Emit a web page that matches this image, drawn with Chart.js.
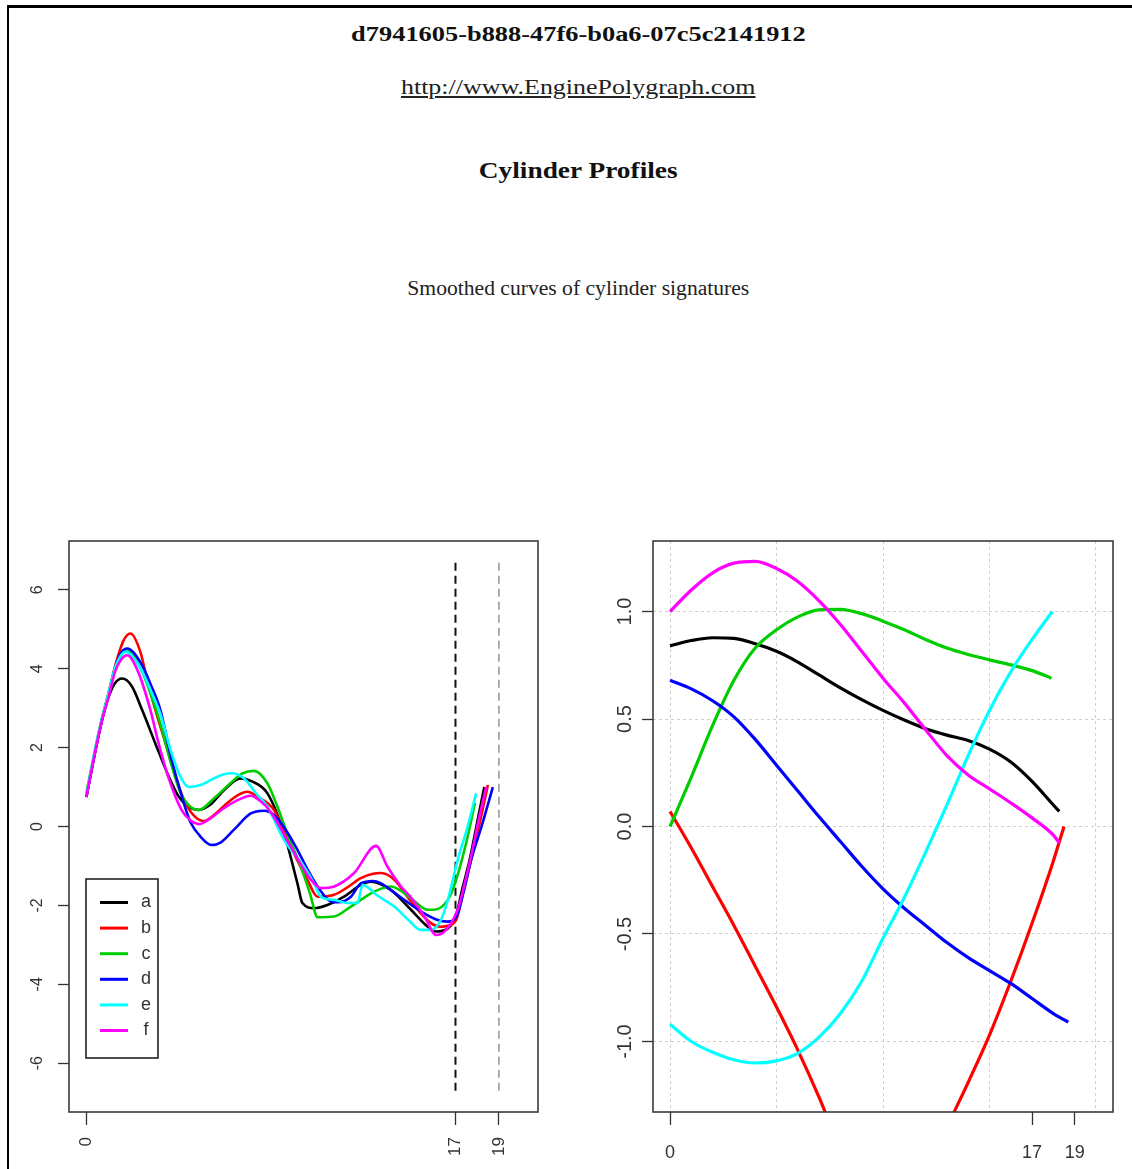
<!DOCTYPE html>
<html>
<head>
<meta charset="utf-8">
<script src="https://cdn.jsdelivr.net/npm/chart.js"></script>
<style>
  html, body { margin: 0; padding: 0; background: #fff; }
  body { width: 1132px; height: 1169px; position: relative; overflow: hidden; }
  .frame { position: absolute; left: 7px; top: 5px; width: 1200px; height: 1300px;
           border-top: 3px solid #000; border-left: 2px solid #000; }
  .t { position: absolute; left: 0; width: 1156px; text-align: center; line-height: 1;
       font-family: 'Liberation Serif', 'Times New Roman', serif; color: #111; white-space: nowrap; }
  .t span { display: inline-block; }
  #uuid { top: 23px; font-size: 22px; font-weight: bold; }
  #uuid span { transform: scaleX(1.2); }
  #url { top: 76px; font-size: 22px; color: #222; }
  #url span { transform: scaleX(1.18); text-decoration: underline; }
  #ttl { top: 158px; font-size: 24px; font-weight: bold; }
  #ttl span { transform: scaleX(1.14); }
  #sub { top: 278px; font-size: 20px; color: #222; }
  #sub span { transform: scaleX(1.08); }
  canvas { position: absolute; }
</style>
</head>
<body>
<div class="frame"></div>
<div class="t" id="uuid"><span>d7941605-b888-47f6-b0a6-07c5c2141912</span></div>
<div class="t" id="url"><span>http://www.EnginePolygraph.com</span></div>
<div class="t" id="ttl"><span>Cylinder Profiles</span></div>
<div class="t" id="sub"><span>Smoothed curves of cylinder signatures</span></div>
<canvas id="left" width="560" height="639" style="left:0;top:530px"></canvas>
<canvas id="right" width="552" height="639" style="left:580px;top:530px"></canvas>
<script>
// series a..f, R default palette
const seriesNames = ['a', 'b', 'c', 'd', 'e', 'f'];
const seriesColors = ['#000000', '#FF0000', '#00CD00', '#0000FF', '#00FFFF', '#FF00FF'];

// left panel: smoothed signatures
const aX = [0, 0.42, 0.72, 1.03, 1.3, 1.65, 2.1, 2.57, 3.18, 3.8, 4.26, 4.7, 5.18, 5.7, 6.3, 7.1, 7.6, 8.34, 9.1, 9.72, 9.95, 10.49, 11.1, 11.87, 12.64, 13.1, 14.0, 14.95, 15.72, 16.1, 16.95, 17.35, 17.65, 18.05, 18.33];
const aY = [0.75, 1.94, 2.7, 3.29, 3.62, 3.75, 3.55, 2.95, 2.1, 1.26, 0.75, 0.5, 0.42, 0.55, 0.9, 1.22, 1.15, 0.84, -0.17, -1.44, -1.94, -2.07, -1.99, -1.78, -1.48, -1.4, -1.6, -2.11, -2.54, -2.66, -2.37, -1.5, -0.85, 0.25, 1.0];

const bX = [0, 0.42, 0.72, 1.03, 1.34, 1.7, 2.03, 2.5, 2.8, 3.18, 3.65, 4.1, 4.57, 5.0, 5.41, 5.9, 6.5, 7.0, 7.41, 7.9, 8.64, 9.41, 10.18, 10.65, 11.41, 12.0, 12.64, 13.2, 13.57, 14.18, 14.95, 15.87, 16.3, 16.6, 17.03, 17.41, 17.72, 18.18, 18.49];
const bY = [0.75, 1.94, 2.7, 3.4, 4.1, 4.7, 4.89, 4.4, 3.7, 2.95, 2.1, 1.26, 0.59, 0.25, 0.14, 0.3, 0.6, 0.8, 0.88, 0.75, 0.42, -0.51, -1.35, -1.78, -1.73, -1.55, -1.31, -1.2, -1.18, -1.35, -1.9, -2.45, -2.54, -2.52, -2.37, -1.52, -0.85, 0.25, 1.05];

const cX = [0, 0.42, 0.72, 1.03, 1.34, 1.85, 2.5, 3.0, 3.41, 3.9, 4.3, 4.7, 5.18, 5.87, 6.8, 7.2, 7.72, 8.34, 8.8, 9.3, 9.88, 10.3, 10.65, 11.41, 12.18, 13.26, 14.03, 14.95, 15.72, 16.0, 16.65, 17.03, 17.5, 17.9];
const cY = [0.85, 2.0, 2.75, 3.4, 4.05, 4.45, 4.0, 3.3, 2.6, 1.6, 0.9, 0.55, 0.42, 0.71, 1.18, 1.35, 1.41, 1.09, 0.5, -0.25, -1.02, -1.7, -2.3, -2.28, -2.03, -1.65, -1.52, -1.82, -2.11, -2.11, -1.86, -1.35, -0.4, 0.6];

const dX = [0, 0.42, 0.72, 1.03, 1.34, 1.6, 1.88, 2.5, 3.0, 3.41, 3.9, 4.3, 4.57, 4.8, 5.26, 5.75, 6.2, 6.8, 7.57, 8.18, 8.64, 9.2, 9.72, 10.2, 10.65, 11.26, 11.6, 12.18, 12.64, 13.2, 13.57, 14.0, 14.64, 15.4, 16.18, 16.65, 17.03, 17.4, 17.72, 18.2, 18.72];
const dY = [0.75, 1.94, 2.7, 3.35, 4.05, 4.4, 4.51, 4.15, 3.55, 2.95, 1.75, 0.95, 0.45, 0.1, -0.26, -0.47, -0.4, -0.08, 0.33, 0.4, 0.29, -0.1, -0.59, -1.1, -1.52, -1.9, -1.92, -1.78, -1.44, -1.38, -1.44, -1.6, -1.86, -2.15, -2.37, -2.41, -2.3, -1.6, -0.85, 0.0, 1.0];

const eX = [0, 0.42, 0.72, 1.03, 1.34, 1.8, 2.5, 3.0, 3.41, 3.9, 4.41, 4.72, 5.26, 5.8, 6.3, 6.72, 7.3, 7.8, 8.34, 9.1, 10.03, 10.49, 10.8, 11.41, 12.03, 12.49, 12.72, 13.4, 14.18, 14.8, 15.41, 15.87, 16.33, 16.65, 17.1, 17.56, 17.95];
const eY = [0.8, 2.0, 2.75, 3.4, 4.05, 4.43, 4.0, 3.4, 2.85, 1.9, 1.18, 1.0, 1.05, 1.2, 1.32, 1.35, 1.2, 0.85, 0.5, -0.34, -1.02, -1.44, -1.78, -1.86, -1.94, -1.94, -1.48, -1.75, -2.03, -2.35, -2.62, -2.62, -2.37, -1.86, -0.85, 0.0, 0.84];

const fX = [0, 0.42, 0.72, 1.03, 1.34, 1.88, 2.4, 2.95, 3.33, 3.77, 4.38, 4.8, 5.2, 5.7, 6.3, 6.9, 7.57, 8.0, 8.49, 9.41, 10.34, 10.8, 11.41, 12.33, 13.34, 13.87, 14.49, 14.95, 15.57, 16.1, 16.5, 17.1, 17.4, 17.7, 18.1, 18.41];
const fY = [0.75, 1.94, 2.7, 3.3, 3.95, 4.34, 3.9, 2.95, 2.1, 1.26, 0.42, 0.15, 0.06, 0.2, 0.45, 0.65, 0.78, 0.65, 0.37, -0.51, -1.35, -1.56, -1.52, -1.18, -0.49, -1.02, -1.52, -1.8, -2.28, -2.75, -2.66, -2.11, -1.5, -0.8, 0.25, 1.0];

// right panel: component curves
const raX = [0, 1, 2, 3, 4, 5, 6, 7, 8, 9, 10, 11, 12, 13, 14, 15, 16, 17, 18, 18.28];
const raY = [0.84, 0.865, 0.878, 0.875, 0.85, 0.815, 0.765, 0.705, 0.645, 0.59, 0.54, 0.495, 0.455, 0.425, 0.4, 0.36, 0.3, 0.21, 0.1, 0.07];
const rbX = [0, 1, 2, 3, 4, 5, 6, 7, 8, 9, 10, 11, 12, 13, 14, 15, 16, 17, 18, 18.5];
const rbY = [0.07, -0.1, -0.28, -0.46, -0.65, -0.84, -1.04, -1.26, -1.5, -1.7, -1.8, -1.78, -1.62, -1.4, -1.19, -0.97, -0.72, -0.45, -0.16, 0.0];
const rcX = [0, 1, 2, 3, 4, 5, 6, 7, 8, 9, 10, 11, 12, 13, 14, 15, 16, 17, 17.91];
const rcY = [0.0, 0.23, 0.47, 0.68, 0.83, 0.915, 0.975, 1.008, 1.01, 0.99, 0.955, 0.915, 0.87, 0.83, 0.8, 0.775, 0.752, 0.725, 0.69];
const rdX = [0, 1, 2, 3, 4, 5, 6, 7, 8, 9, 10, 11, 12, 13, 14, 15, 16, 17, 18, 18.7];
const rdY = [0.68, 0.64, 0.585, 0.51, 0.405, 0.285, 0.165, 0.045, -0.07, -0.185, -0.29, -0.38, -0.46, -0.54, -0.61, -0.67, -0.73, -0.8, -0.87, -0.91];
const reX = [0, 1, 2, 3, 4, 5, 6, 7, 8, 9, 10, 11, 12, 13, 14, 15, 16, 17, 17.95];
const reY = [-0.92, -1.0, -1.05, -1.085, -1.1, -1.09, -1.055, -0.98, -0.87, -0.72, -0.52, -0.33, -0.12, 0.1, 0.33, 0.54, 0.72, 0.87, 1.0];
const rfX = [0, 1, 2, 3, 4, 5, 6, 7, 8, 9, 10, 11, 12, 13, 14, 15, 16, 17, 18, 18.28];
const rfY = [1.0, 1.1, 1.18, 1.225, 1.233, 1.2, 1.14, 1.05, 0.94, 0.815, 0.69, 0.575, 0.45, 0.33, 0.24, 0.175, 0.11, 0.04, -0.04, -0.077];

// axes
const xTicks = [0, 17, 19];
const yTicksLeft = [-6, -4, -2, 0, 2, 4, 6];
const yTicksRight = [-1, -0.5, 0, 0.5, 1];
const xGridRight = [0, 5, 10, 15, 20];
const markerX = [17, 19];
const markerColors = ['#111111', '#9a9a9a'];
const markerSpan = [-6.7, 6.7];

const sans = "'Liberation Sans', Arial, sans-serif";
const narrow = "'Liberation Sans Narrow', 'Liberation Sans', Arial, sans-serif";

function pts(xs, ys) {
  return xs.map((x, i) => ({ x: x, y: ys[i] }));
}

// fixed axis sizes, no extra label padding pushed into the layout
function fixHeight(h) {
  return s => { s.height = h; s.paddingLeft = 0; s.paddingRight = 0; };
}
function fixWidth(w) {
  return s => { s.width = w; s.paddingTop = 0; s.paddingBottom = 0; };
}

const boxPlugin = {
  id: 'box',
  afterDraw(chart) {
    const a = chart.chartArea, ctx = chart.ctx;
    ctx.save();
    ctx.strokeStyle = '#3a3a3a';
    ctx.lineWidth = 1.6;
    ctx.strokeRect(a.left, a.top, a.right - a.left, a.bottom - a.top);
    ctx.restore();
  }
};

// R style legend in the bottom left corner of the plot
const legendPlugin = {
  id: 'rlegend',
  afterDraw(chart) {
    const a = chart.chartArea, ctx = chart.ctx;
    const w = 72, h = 179;
    const left = a.left + 17, top = a.bottom - 54 - h;
    ctx.save();
    ctx.fillStyle = '#fff';
    ctx.fillRect(left, top, w, h);
    ctx.strokeStyle = '#222';
    ctx.lineWidth = 1.6;
    ctx.strokeRect(left, top, w, h);
    ctx.font = '18px ' + narrow;
    ctx.textAlign = 'center';
    ctx.textBaseline = 'middle';
    seriesNames.forEach((name, i) => {
      const y = top + 23.5 + i * 25.6;
      ctx.strokeStyle = seriesColors[i];
      ctx.lineWidth = 3;
      ctx.beginPath();
      ctx.moveTo(left + 14, y);
      ctx.lineTo(left + 42, y);
      ctx.stroke();
      ctx.fillStyle = '#333';
      ctx.fillText(name, left + 60, y);
    });
    ctx.restore();
  }
};

function curveSets(list, width) {
  return list.map((s, i) => ({
    label: seriesNames[i],
    data: pts(s[0], s[1]),
    borderColor: seriesColors[i],
    borderWidth: width,
    pointRadius: 0,
    fill: false,
    cubicInterpolationMode: 'monotone',
    order: 20 - i
  }));
}

const leftSets = curveSets([[aX, aY], [bX, bY], [cX, cY], [dX, dY], [eX, eY], [fX, fY]], 2.6);
markerX.forEach((mx, i) => {
  leftSets.push({
    label: '',
    data: [{ x: mx, y: markerSpan[0] }, { x: mx, y: markerSpan[1] }],
    borderColor: markerColors[i],
    borderWidth: i === 0 ? 2 : 1.6,
    borderDash: [8, 5],
    pointRadius: 0,
    order: 30
  });
});

new Chart(document.getElementById('left'), {
  type: 'line',
  data: { datasets: leftSets },
  options: {
    responsive: false,
    animation: false,
    devicePixelRatio: 1,
    layout: { padding: { top: 11, right: 22, left: 0, bottom: 0 } },
    plugins: { legend: { display: false }, tooltip: { enabled: false } },
    scales: {
      x: {
        type: 'linear', min: -0.8, max: 20.8,
        afterBuildTicks: s => { s.ticks = xTicks.map(v => ({ value: v })); },
        afterFit: fixHeight(57),
        border: { display: false },
        grid: { drawOnChartArea: false, drawTicks: true, tickLength: 13, tickColor: '#333', tickWidth: 1.3 },
        ticks: { autoSkip: false, minRotation: 90, maxRotation: 90, padding: 12, color: '#333',
                 font: { family: sans, size: 17 }, callback: v => String(v) }
      },
      y: {
        type: 'linear', min: -7.236, max: 7.236,
        afterBuildTicks: s => { s.ticks = yTicksLeft.map(v => ({ value: v })); },
        afterFit: fixWidth(69),
        border: { display: false },
        grid: { drawOnChartArea: false, drawTicks: true, tickLength: 11, tickColor: '#333', tickWidth: 1.3 },
        ticks: { autoSkip: false, minRotation: 90, maxRotation: 90, crossAlign: 'center', padding: 13,
                 color: '#333', font: { family: sans, size: 16 }, callback: v => String(v) }
      }
    }
  },
  plugins: [boxPlugin, legendPlugin]
});

const rightSets = curveSets([[raX, raY], [rbX, rbY], [rcX, rcY], [rdX, rdY], [reX, reY], [rfX, rfY]], 3.2);

new Chart(document.getElementById('right'), {
  type: 'line',
  data: { datasets: rightSets },
  options: {
    responsive: false,
    animation: false,
    devicePixelRatio: 1,
    layout: { padding: { top: 11, right: 19, left: 0, bottom: 0 } },
    plugins: { legend: { display: false }, tooltip: { enabled: false } },
    scales: {
      x: {
        type: 'linear', min: -0.8, max: 20.8,
        afterBuildTicks: s => { s.ticks = xTicks.map(v => ({ value: v })); },
        afterFit: fixHeight(57),
        border: { display: false },
        grid: { drawOnChartArea: false, drawTicks: true, tickLength: 13, tickColor: '#333', tickWidth: 1.3 },
        ticks: { autoSkip: false, minRotation: 0, maxRotation: 0, padding: 17, color: '#333',
                 font: { family: narrow, size: 18 }, callback: v => String(v) }
      },
      xg: {
        type: 'linear', axis: 'x', position: 'bottom', min: -0.8, max: 20.8,
        afterBuildTicks: s => { s.ticks = xGridRight.map(v => ({ value: v })); },
        afterFit: fixHeight(0),
        border: { display: false, dash: [3, 3] },
        grid: { color: '#cfcfcf', lineWidth: 1, drawTicks: false },
        ticks: { display: false }
      },
      y: {
        type: 'linear', min: -1.328, max: 1.328,
        afterBuildTicks: s => { s.ticks = yTicksRight.map(v => ({ value: v })); },
        afterFit: fixWidth(73),
        border: { display: false, dash: [3, 3] },
        grid: { color: '#cfcfcf', lineWidth: 1, drawTicks: true, tickLength: 11, tickColor: '#333',
                tickWidth: 1.3, tickBorderDash: [] },
        ticks: { autoSkip: false, minRotation: 90, maxRotation: 90, crossAlign: 'center', padding: -1,
                 color: '#333', font: { family: sans, size: 20 }, callback: v => v.toFixed(1) }
      }
    }
  },
  plugins: [boxPlugin]
});
</script>
</body>
</html>
